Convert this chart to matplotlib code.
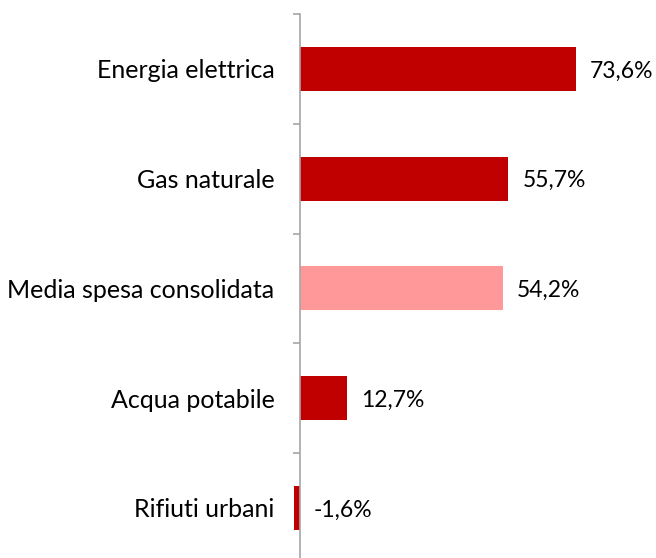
import matplotlib
matplotlib.use("Agg")
import matplotlib.pyplot as plt
import numpy as np

categories = ["Energia elettrica", "Gas naturale", "Media spesa consolidata",
              "Acqua potabile", "Rifiuti urbani"]
values = [73.6, 55.7, 54.2, 12.7, -1.6]
labels = ["73,6%", "55,7%", "54,2%", "12,7%", "-1,6%"]
colors = ["#C00000", "#C00000", "#FF9999", "#C00000", "#C00000"]

W, H = 656, 558
fig = plt.figure(figsize=(W/100, H/100), dpi=100)
plt.rcParams['font.family'] = ['Lato', 'DejaVu Sans']

x0 = 299.5
ppu = 3.75
xmax = 95
top = 14
band = 109.75
n = len(categories)
ax = fig.add_axes([x0/W, (H - top - n*band)/H, xmax*ppu/W, n*band/H])

y = np.arange(n)
ax.barh(y, values, height=0.4, color=colors, clip_on=False, zorder=2)
ax.set_xlim(0, xmax)
ax.set_ylim(n - 0.5, -0.5)

for yi, v, lab in zip(y, values, labels):
    ax.annotate(lab, (max(v, 0), yi), xytext=(14, -2), textcoords='offset pixels',
                va='center', ha='left', fontsize=16.5, color='#000000')

for s in ['top', 'right', 'bottom']:
    ax.spines[s].set_visible(False)
ax.spines['left'].set_color('#A6A6A6')
ax.spines['left'].set_linewidth(1.2)
ax.spines['left'].set_zorder(3)

ax.set_xticks([])
ax.set_yticks(y)
ax.set_yticklabels(categories, fontsize=18)
ax.tick_params(axis='y', which='major', length=0, pad=18)
ax.set_yticks(np.arange(-0.5, n, 1.0), minor=True)
ax.tick_params(axis='y', which='minor', length=5, width=1.2, color='#A6A6A6')

fig.savefig("out.png", dpi=100)
